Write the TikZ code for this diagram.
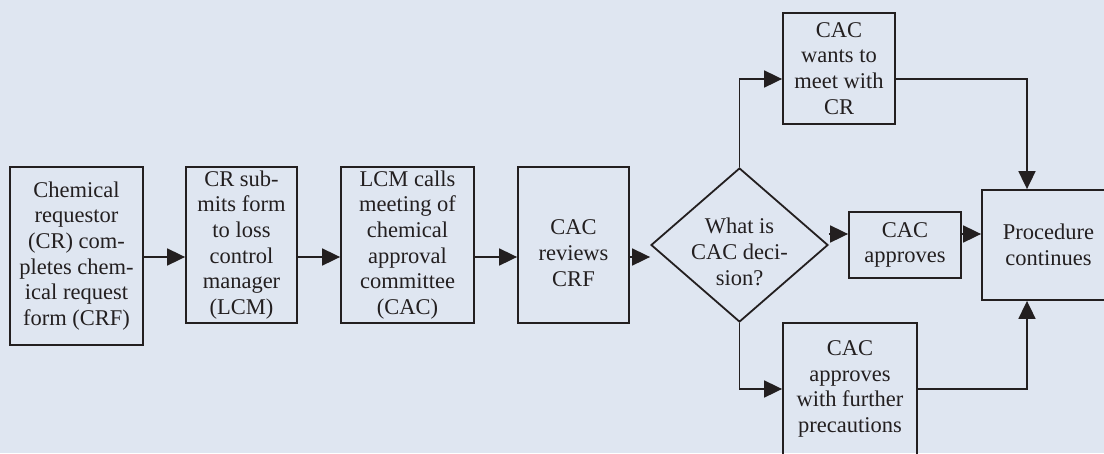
\documentclass[tikz,border=0pt]{standalone}
\usepackage{fontspec}
\setmainfont{Liberation Serif}
\usetikzlibrary{arrows.meta,shapes.geometric}
\definecolor{bg}{RGB}{223,230,241}
\definecolor{ink}{RGB}{35,31,32}
\begin{document}
\begin{tikzpicture}[x=1pt,y=-1pt,
  box/.style={draw=ink,line width=1.8pt,align=center,inner sep=0pt,font=\fontsize{22.5}{25.7}\selectfont,text=ink},
  txt/.style={align=center,inner sep=0pt,font=\fontsize{22.5}{25.7}\selectfont,text=ink},
  arr/.style={draw=ink,line width=1.8pt,-{Triangle[length=18pt,width=17pt]}}]
\useasboundingbox (0,0) rectangle (1104,453);
\clip (0,0) rectangle (1104,453);
\fill[bg] (0,0) rectangle (1104,453);
\node[box,minimum width=133pt,minimum height=178pt] (b1) at (76.5,256) {Chemical\\requestor\\(CR) com-\\pletes chem-\\ical request\\form (CRF)};
\node[box,minimum width=111pt,minimum height=156pt] (b2) at (241.5,245) {CR sub-\\mits form\\to loss\\control\\manager\\(LCM)};
\node[box,minimum width=133pt,minimum height=156pt] (b3) at (407.5,245) {LCM calls\\meeting of\\chemical\\approval\\committee\\(CAC)};
\node[box,minimum width=111pt,minimum height=156pt] (b4) at (573.5,245) {};
\node[txt] (t4) at (573.5,253) {CAC\\reviews\\CRF};
\node[draw=ink,line width=1.8pt,diamond,minimum width=177pt,minimum height=154pt,inner sep=0pt] (dia) at (739.5,245) {};
\node[txt] (tdia) at (739.5,252) {What is\\CAC deci-\\sion?};
\node[box,minimum width=112pt,minimum height=66pt] (ok) at (905,245) {CAC\\approves};
\node[box,minimum width=133pt,minimum height=110pt] (proc) at (1048.5,245) {Procedure\\continues};
\node[box,minimum width=112pt,minimum height=111pt] (meet) at (839,68.5) {CAC\\wants to\\meet with\\CR};
\node[box,minimum width=134pt,minimum height=132pt] (prec) at (850,389) {CAC\\approves\\with further\\precautions};
\coordinate (yA) at (0,257);
\coordinate (yB) at (0,234);
\coordinate (yC) at (0,79);
\coordinate (xR) at (1027,0);
\draw[arr] (b1.east |- yA) -- (b2.west |- yA);
\draw[arr] (b2.east |- yA) -- (b3.west |- yA);
\draw[arr] (b3.east |- yA) -- (b4.west |- yA);
\draw[arr] (b4.east |- yA) -- (dia.west |- yA);
\draw[arr] (dia.east |- yB) -- (ok.west |- yB);
\draw[arr] (ok.east |- yB) -- (proc.west |- yB);
\draw[arr] (dia.north) |- (meet.west |- yC);
\draw[arr] (meet.east |- yC) -| (proc.north -| xR);
\draw[arr] (dia.south) |- (prec.west);
\draw[arr] (prec.east) -| (proc.south -| xR);
\end{tikzpicture}
\end{document}
